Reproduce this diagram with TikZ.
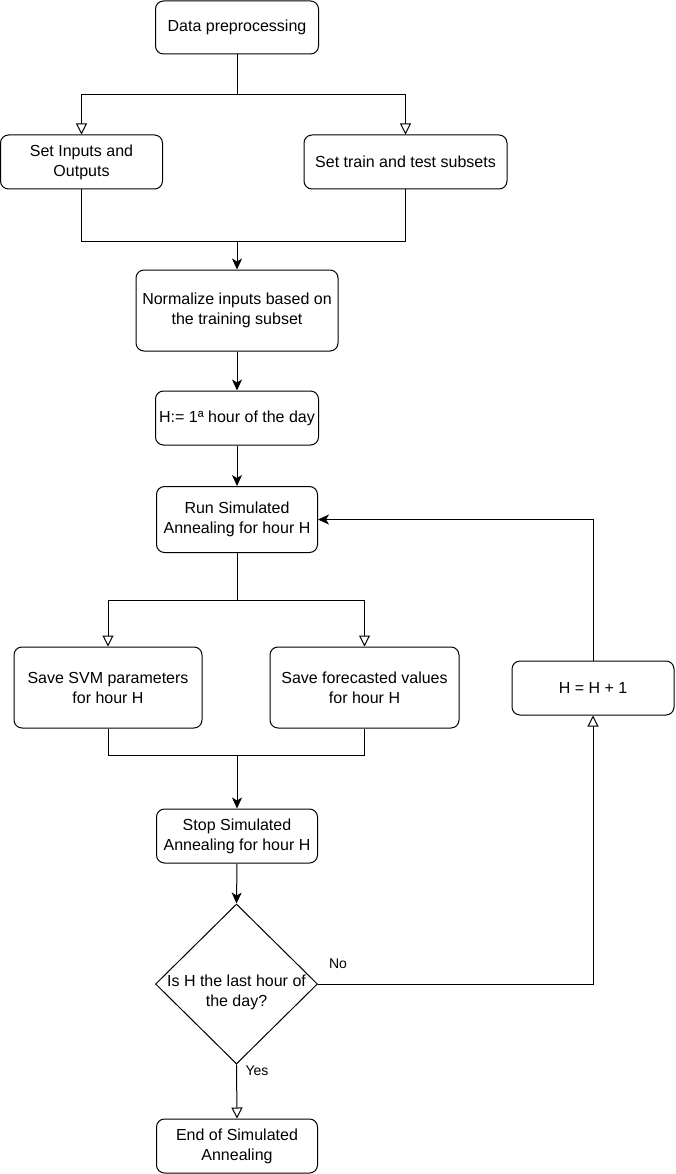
\documentclass[tikz,border=0pt]{standalone}
\usepackage{fontspec}
\setmainfont{Liberation Sans}
\usetikzlibrary{arrows.meta,shapes.geometric}
\begin{document}
\begin{tikzpicture}[x=1pt,y=-1pt,
  line width=1pt,
  box/.style={draw, rounded corners=8pt, align=center, inner sep=0pt,
    font=\fontsize{16}{20}\selectfont},
  fillarrow/.style={-{Stealth[length=11pt,width=10pt,inset=3pt]}},
  openarrow/.style={-{Triangle[open,length=11pt,width=11pt,fill=white]}},
  lbl/.style={font=\fontsize{14}{16}\selectfont, inner sep=0pt}]
\useasboundingbox (0,0) rectangle (675,1174);

\node[box, minimum width=163, minimum height=53] (dp) at (237,27.5) {Data preprocessing};
\node[box, minimum width=162, minimum height=54] (sio) at (81.5,162) {Set Inputs and\\Outputs};
\node[box, minimum width=203, minimum height=54] (stt) at (405.5,162) {Set train and test subsets};
\node[box, minimum width=202, minimum height=81] (norm) at (237,310.5) {Normalize inputs based on\\the training subset};
\node[box, minimum width=163, minimum height=54] (h1) at (237,418) {H:= 1ª hour of the day};
\node[box, minimum width=161, minimum height=66] (run) at (237,519.5) {Run Simulated\\Annealing for hour H};
\node[box, minimum width=188, minimum height=81] (svm) at (108,687.5) {Save SVM parameters\\for hour H};
\node[box, minimum width=189, minimum height=81] (fc) at (364.5,687.5) {Save forecasted values\\for hour H};
\node[box, minimum width=162, minimum height=54] (hp) at (593,688) {H = H + 1};
\node[box, minimum width=161, minimum height=54] (stop) at (237,836) {Stop Simulated\\Annealing for hour H};
\node[draw, diamond, minimum width=162, minimum height=160, inner sep=0pt] (dec) at (236.5,984) {};
\node[align=center, inner sep=0pt, font=\fontsize{16}{20}\selectfont] (dect) at (236.5,992) {Is H the last hour of\\the day?};
\node[box, minimum width=161, minimum height=54] (end) at (237,1146) {End of Simulated\\Annealing};

\coordinate (s1) at (237,95);
\coordinate (m1) at (237,242);
\coordinate (s2) at (237,600);
\coordinate (m2) at (237,755);

\draw (dp.south) -- (s1);
\draw[openarrow] (s1) -| (sio.north);
\draw[openarrow] (s1) -| (stt.north);
\draw (sio.south) |- (m1);
\draw (stt.south) |- (m1);
\draw[fillarrow] (m1) -- (norm.north);
\draw[fillarrow] (norm.south) -- (h1.north);
\draw[fillarrow] (h1.south) -- (run.north);
\draw (run.south) -- (s2);
\draw[openarrow] (s2) -| (svm.north);
\draw[openarrow] (s2) -| (fc.north);
\draw (svm.south) |- (m2);
\draw (fc.south) |- (m2);
\draw[fillarrow] (m2) -- (stop.north);
\draw[fillarrow] (stop.south) -- (dec.north);
\draw[openarrow] (dec.south) -- (end.north);
\draw[openarrow] (dec.east) -| (hp.south);
\draw[fillarrow] (hp.north) |- (run.east);

\node[lbl] (yes) at (257,1071) {Yes};
\node[lbl] (no) at (338,964) {No};
\end{tikzpicture}
\end{document}
